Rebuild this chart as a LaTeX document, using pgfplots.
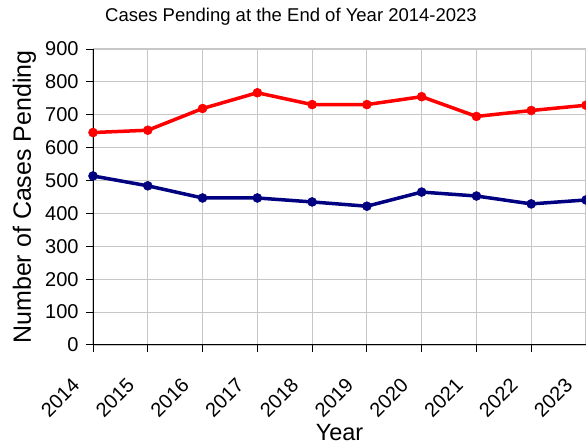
\documentclass[border=0pt]{standalone}
\usepackage{pgfplots}
\pgfplotsset{compat=1.18}
\usepackage{fontspec}
\setmainfont{Liberation Sans}
\definecolor{navyline}{HTML}{000080}
\definecolor{redline}{HTML}{FF0000}
\begin{document}
\begin{tikzpicture}
\begin{axis}[
  name=ax,
  width=493bp, height=296bp, scale only axis,
  xmin=2014, xmax=2023, ymin=0, ymax=900,
  xtick={2014,2015,2016,2017,2018,2019,2020,2021,2022,2023},
  xticklabels={2014,2015,2016,2017,2018,2019,2020,2021,2022,2023},
  ytick={0,100,...,900},
  /pgf/number format/assume math mode=true,
  axis lines*=left,
  grid=major,
  grid style={draw=black!22, line width=1.2bp},
  axis line style={black, line width=1bp},
  tick style={black, line width=1bp},
  tick align=outside, major tick length=7bp,
  tick label style={font=\fontsize{20bp}{24bp}\selectfont},
  yticklabel style={xshift=-4bp},
  xticklabel style={xshift=-17bp, yshift=-30bp, rotate=45, anchor=east, inner sep=0bp},
  title={Cases Pending at the End of Year 2014-2023},
  title style={font=\fontsize{18.5bp}{22bp}\selectfont, at={(axis description cs:0.4016,1.0743)}, anchor=base},
  xlabel={Year},
  xlabel style={font=\fontsize{23.5bp}{28bp}\selectfont, at={(axis description cs:0.5,-0.3233)}, anchor=base},
  ylabel={Number of Cases Pending},
  ylabel style={font=\fontsize{25bp}{28bp}\selectfont, at={(axis description cs:-0.1258,0.5)}, anchor=base, rotate=0},
  clip=false,
]
\addplot[redline, line width=3.5bp, mark=*, mark size=4.5bp, mark options={solid, fill=redline, line width=0.5bp}]
  coordinates {(2014,646) (2015,653) (2016,719) (2017,767) (2018,731) (2019,731) (2020,755) (2021,695) (2022,713) (2023,729)};
\addplot[navyline, line width=3.5bp, mark=*, mark size=4.5bp, mark options={solid, fill=navyline, line width=0.5bp}]
  coordinates {(2014,514) (2015,484) (2016,447) (2017,447) (2018,435) (2019,422) (2020,465) (2021,453) (2022,429) (2023,441)};
\end{axis}
\pgfresetboundingbox
\path (ax.south west) ++(-93bp,-100bp) coordinate (bl);
\path (ax.north east) ++(0bp,49bp) coordinate (tr);
\path[use as bounding box] (bl) rectangle (tr);
\end{tikzpicture}
\end{document}
